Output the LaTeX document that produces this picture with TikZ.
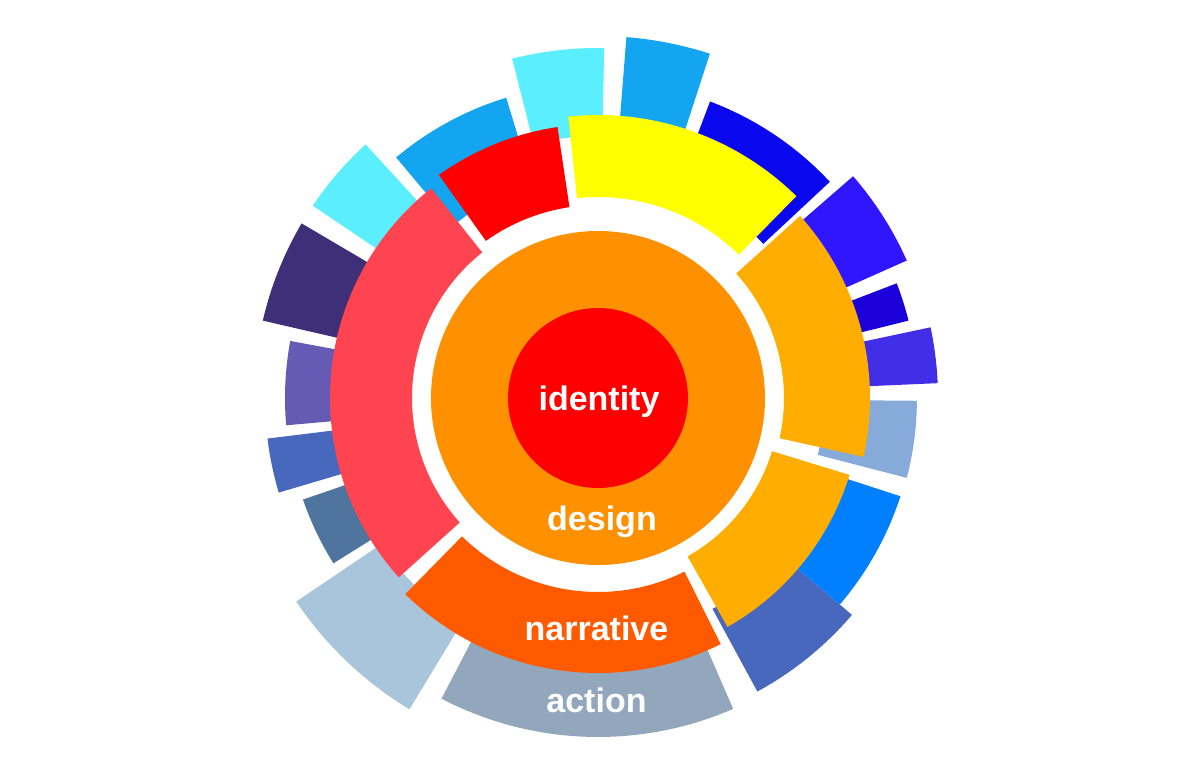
\documentclass[tikz,border=0pt]{standalone}
\usepackage{fontspec}
\setmainfont{Liberation Sans}
\usepackage{tikz}
\definecolor{cIdentity}{HTML}{FF0000}
\definecolor{cDesign}{HTML}{FF9000}
\definecolor{cAmber}{HTML}{FFAD00}
\definecolor{cYellow}{HTML}{FFFF00}
\definecolor{cPink}{HTML}{FF4451}
\definecolor{cNarrative}{HTML}{FF5A00}
\definecolor{cAction}{HTML}{93A7BC}
\definecolor{cPale}{HTML}{86ABDB}
\definecolor{cViolet}{HTML}{432EE8}
\definecolor{cNavy}{HTML}{1B00D9}
\definecolor{cIndigoB}{HTML}{3015FF}
\definecolor{cDeep}{HTML}{0A08EE}
\definecolor{cSky}{HTML}{13A5F0}
\definecolor{cCyan}{HTML}{5BEEFF}
\definecolor{cIndigo}{HTML}{3D3078}
\definecolor{cPurple}{HTML}{655AB4}
\definecolor{cCobalt}{HTML}{4868BE}
\definecolor{cSteel}{HTML}{4F749E}
\definecolor{cMist}{HTML}{A8C5DB}
\definecolor{cAzure}{HTML}{007FFF}
\newcommand{\wedgeseg}[5]{\fill[#5] (#1:#3) arc[start angle=#1,end angle=#2,radius=#3] -- (#2:#4) arc[start angle=#2,end angle=#1,radius=#4] -- cycle;}
\tikzset{lbl/.style={text=white,anchor=base,inner sep=0pt,font=\bfseries\fontsize{34}{34}\selectfont}}

\begin{document}
\begin{tikzpicture}[x=1pt,y=1pt]
  \useasboundingbox (-598,-379) rectangle (602,398);

  \foreach \a/\b/\ri/\ro/\c in {-14.5/-0.5/227/319/cPale, 2.5/12/260/340/cViolet,
    14/21/260/320/cNavy, 24/41/260/338/cIndigoB, 43/69.3/226/317/cDeep,
    72/85.5/260/362/cSky, 89/104.2/262/350/cCyan, 107/130/225/314/cSky,
    132.5/146/260/344/cCyan, 149.5/167/260/344/cIndigo, 169.5/185/260/313/cPurple,
    187/196.5/260/333/cCobalt, 199/212/260/312/cSteel, 214/238.8/262/364/cMist,
    242.5/293.5/260/339/cAction, 298.5/319.5/240/334/cCobalt, 319.5/342/255/318/cAzure}
    {\wedgeseg{\a}{\b}{\ri}{\ro}{\c}}

  \foreach \a/\b/\ri/\ro/\c in {-12.5/42/186/272/cAmber, 45.5/96/201/283/cYellow,
    98.5/125.5/193/274/cIdentity, 128.5/222/186/268/cPink,
    225.5/296.5/194/275/cNarrative, 299.5/343/182/263/cAmber}
    {\wedgeseg{\a}{\b}{\ri}{\ro}{\c}}

  \fill[cDesign] (0,0) circle[radius=167];
  \fill[cIdentity] (0,0) circle[radius=90];

  \node at (1,-12) [lbl] (identity) {identity};
  \node at (4,-132) [lbl] (design) {design};
  \node at (-1.5,-242) [lbl] (narrative) {narrative};
  \node at (-1.5,-314) [lbl] (action) {action};
\end{tikzpicture}
\end{document}
